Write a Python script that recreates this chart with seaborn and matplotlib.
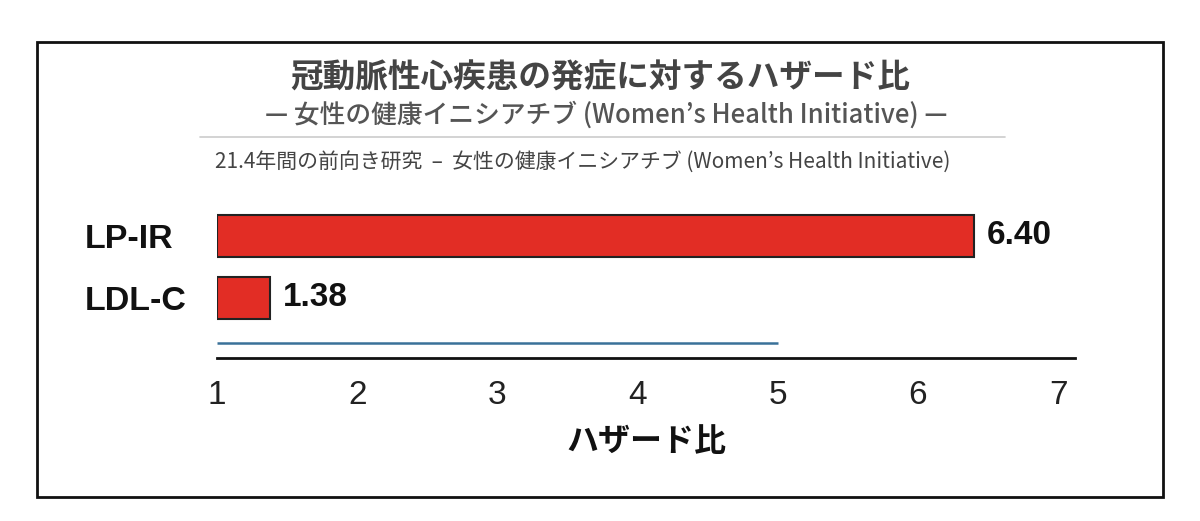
import matplotlib
matplotlib.use("Agg")
import matplotlib.pyplot as plt
import seaborn as sns
import pandas as pd
from matplotlib.patches import Rectangle
from matplotlib.lines import Line2D

TITLE = "冠動脈性心疾患の発症に対するハザード比"
SUBTITLE = "— 女性の健康イニシアチブ (Women’s Health Initiative) —"
NOTE = "21.4年間の前向き研究  –  女性の健康イニシアチブ (Women’s Health Initiative)"
XLABEL = "ハザード比"

markers = ["LP-IR", "LDL-C"]
hazard_ratios = [6.40, 1.38]
baseline = 1
xticks = [1, 2, 3, 4, 5, 6, 7]
ref_line = [1, 5]

BAR_RED = "#E22D25"
REF_BLUE = "#3A7199"
CJK = ["Noto Sans CJK JP", "DejaVu Sans"]
NARROW = ["Liberation Sans Narrow", "Liberation Sans", "DejaVu Sans"]
HELV = ["Liberation Sans", "DejaVu Sans"]

sns.set_theme(style="white")
plt.rcParams["font.family"] = CJK

df = pd.DataFrame({"marker": markers, "hr": hazard_ratios})

W, H = 1200, 521
fig = plt.figure(figsize=(12, 5.21), dpi=100)
ax = fig.add_axes([217 / W, 1 - 358 / H, (1075 - 217) / W, (358 - 200) / H])

sns.barplot(data=df, x="hr", y="marker", orient="h", color=BAR_RED,
            width=0.68, edgecolor="#222222", linewidth=1.5, saturation=1, ax=ax)

# bars start at the baseline hazard ratio of 1
for patch, v in zip(ax.patches, hazard_ratios):
    patch.set_x(baseline)
    patch.set_width(v - baseline)

ax.bar_label(ax.containers[0], labels=[f"{v:.2f}" for v in hazard_ratios],
             padding=9, fontsize=24, fontweight="bold", family=HELV, color="#111111")

ax.hlines(1.73, ref_line[0], ref_line[1], color=REF_BLUE, linewidth=1.8)

ax.set_xlim(1, 7.12)
ax.set_ylim(1.97, -0.58)
ax.set_xticks(xticks)
ax.set_xticklabels([str(t) for t in xticks], family=NARROW, fontsize=24, color="#222222")
ax.tick_params(axis="x", length=0, pad=16)
ax.tick_params(axis="y", length=0, pad=95)
for lab in ax.get_yticklabels():
    lab.set_horizontalalignment("left")
    lab.set_family(HELV)
    lab.set_fontsize(24.5)
    lab.set_fontweight("bold")
    lab.set_color("#111111")
ax.set_ylabel("")
ax.set_xlabel(XLABEL, fontsize=23, fontweight="bold", color="#111111", labelpad=11)

for s in ["top", "right", "left"]:
    ax.spines[s].set_visible(False)
ax.spines["bottom"].set_color("#111111")
ax.spines["bottom"].set_linewidth(2)

fig.text(600 / W, 1 - 78 / H, TITLE, ha="center", va="center", fontsize=23.5,
         fontweight="bold", color="#444444")
fig.text(606 / W, 1 - 115 / H, SUBTITLE, ha="center", va="center", fontsize=18.5,
         fontweight="medium", color="#555555")
fig.text(215 / W, 1 - 162 / H, NOTE, ha="left", va="center", fontsize=15,
         color="#444444")
fig.add_artist(Line2D([200 / W, 1005 / W], [1 - 137 / H, 1 - 137 / H],
                      color="#cccccc", linewidth=1.2, transform=fig.transFigure))
fig.add_artist(Rectangle((37 / W, 1 - 497 / H), (1163 - 37) / W, (497 - 42) / H,
                         fill=False, edgecolor="#111111", linewidth=2,
                         transform=fig.transFigure))

fig.savefig("out.png", dpi=100, facecolor="white")
